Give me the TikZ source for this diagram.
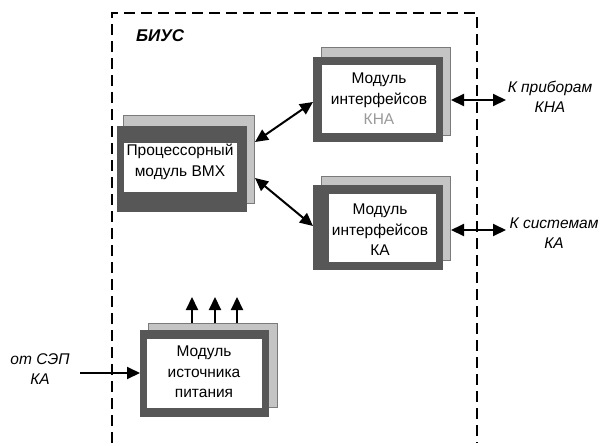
\documentclass[tikz,border=0pt]{standalone}
\usepackage{fontspec}
\setmainfont{Liberation Sans}
\usetikzlibrary{arrows.meta}
\definecolor{frontc}{HTML}{575757}
\definecolor{backc}{HTML}{C4C4C4}
\definecolor{backd}{HTML}{7A7A7A}
\definecolor{dimtxt}{HTML}{9A9A9A}
\begin{document}
\begin{tikzpicture}[x=1pt,y=-1pt,
  txt/.style={font=\fontsize{15.5}{20.5}\selectfont, align=center, inner sep=0pt},
  lbl/.style={font=\fontsize{15.5}{20.5}\selectfont\itshape, align=center, inner sep=0pt},
  conn/.style={line width=2pt, {Triangle[length=13pt,width=12pt]}-{Triangle[length=13pt,width=12pt]}},
  oneway/.style={line width=2pt, -{Triangle[length=13pt,width=12pt]}},
  backbox/.style={draw=backd, line width=0.8pt, fill=backc},
  border/.style={line width=2.2pt, dash pattern=on 11pt off 6pt}]
\useasboundingbox (0,0) rectangle (605,445);
\fill[white] (0,0) rectangle (605,445);
% outer dashed border
\draw[border] (112,443) -- (112,13) -- (477,13) -- (477,443);
\node[font=\fontsize{17}{18}\selectfont\bfseries\itshape, anchor=west, inner sep=0pt] (biys) at (136,36) {БИУС};
% KNA module
\draw[backbox] (321,47) rectangle (450,135);
\fill[frontc] (313,57) rectangle (443,142);
\fill[white] (322,65) rectangle (436,133);
\node[txt] (kna) at (379,99) {Модуль\\интерфейсов\\\textcolor{dimtxt}{КНА}};
% Processor module
\draw[backbox] (123,115) rectangle (254,203);
\fill[frontc] (117,126) rectangle (247,212);
\fill[white] (124,143) rectangle (237,192);
\node[txt] (proc) at (180,162) {Процессорный\\модуль ВМХ};
% KA module
\draw[backbox] (321,176) rectangle (450,260);
\fill[frontc] (313,185) rectangle (443,270);
\fill[white] (329,194) rectangle (436,262);
\node[txt] (ka) at (380,230) {Модуль\\интерфейсов\\КА};
% Power module
\draw[backbox] (148,323) rectangle (277,407);
\fill[frontc] (140,330) rectangle (269,417);
\fill[white] (147,339) rectangle (262,408);
\node[txt] (pwr) at (204,372) {Модуль\\источника\\питания};
% connector end points
\coordinate (procA) at (255,142);
\coordinate (knaL) at (313,102);
\coordinate (procB) at (255,178);
\coordinate (kaL) at (313,226);
\coordinate (knaR) at (451,100);
\coordinate (knaX) at (506,100);
\coordinate (kaR) at (451,230);
\coordinate (kaX) at (506,230);
\coordinate (sepS) at (80,373);
\coordinate (pwrL) at (140,373);
\coordinate (u1s) at (192,323);
\coordinate (u1e) at (192,297);
\coordinate (u2s) at (215,323);
\coordinate (u2e) at (215,297);
\coordinate (u3s) at (237,323);
\coordinate (u3e) at (237,297);
% connectors
\draw[conn] (procA) -- (knaL);
\draw[conn] (procB) -- (kaL);
\draw[conn] (knaR) -- (knaX);
\draw[conn] (kaR) -- (kaX);
\draw[oneway] (sepS) -- (pwrL);
\draw[oneway] (u1s) -- (u1e);
\draw[oneway] (u2s) -- (u2e);
\draw[oneway] (u3s) -- (u3e);
% labels
\node[lbl] (lkna) at (550,97) {К приборам\\КНА};
\node[lbl] (lka) at (554,233) {К системам\\КА};
\node[lbl] (lsep) at (40,369) {от СЭП\\КА};
\end{tikzpicture}
\end{document}
